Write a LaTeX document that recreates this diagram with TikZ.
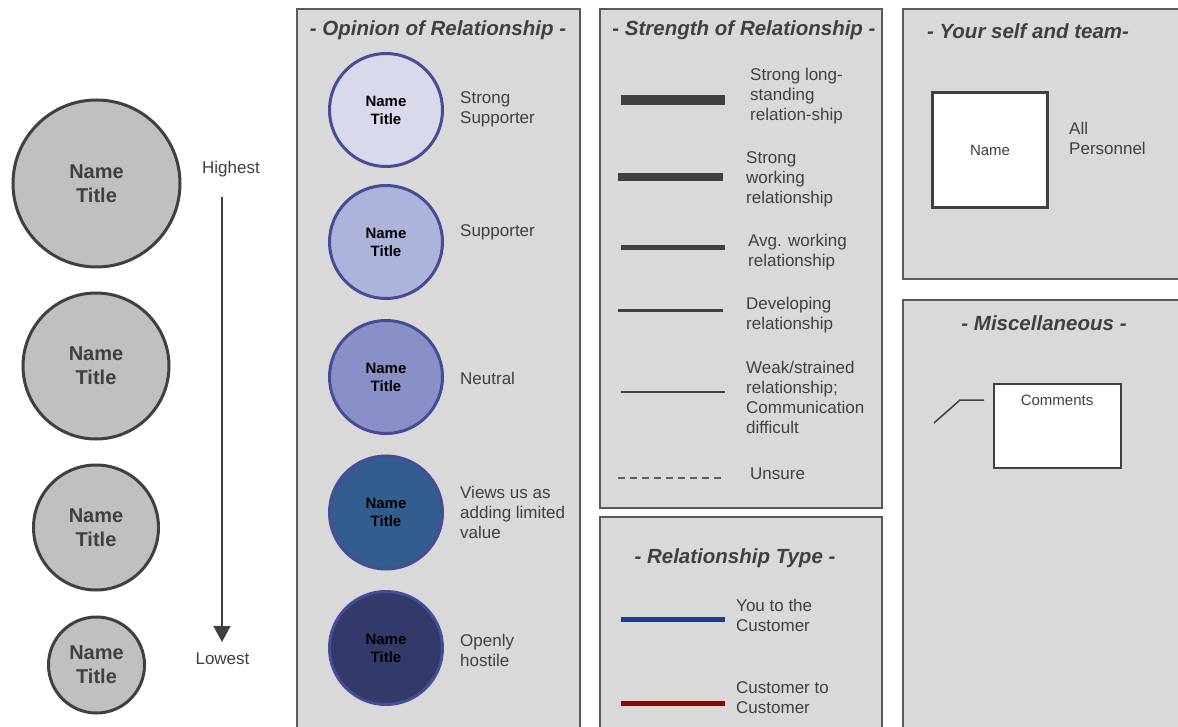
\documentclass[tikz,border=0pt]{standalone}
\usepackage{fontspec}
\setmainfont{Liberation Sans}
\usetikzlibrary{arrows.meta}
\definecolor{panelfill}{HTML}{D9D9D9}
\definecolor{panelline}{HTML}{5A5A5A}
\definecolor{txt}{HTML}{404040}
\definecolor{rankfill}{HTML}{C0C0C0}
\definecolor{opline}{HTML}{464C97}
\definecolor{opA}{HTML}{D8D9EB}
\definecolor{opB}{HTML}{AEB3DB}
\definecolor{opC}{HTML}{8A90C7}
\definecolor{opD}{HTML}{335D8E}
\definecolor{opE}{HTML}{333A69}
\definecolor{relblue}{HTML}{1D3C9A}
\definecolor{relred}{HTML}{990000}
\begin{document}
\begin{tikzpicture}[x=1pt,y=-1pt,
  panel/.style={draw=panelline,fill=panelfill,line width=1.2pt},
  heading/.style={text=txt,font=\bfseries\itshape\fontsize{20.5}{24}\selectfont,inner sep=0pt},
  label/.style={text=txt,font=\fontsize{17}{20}\selectfont,align=left,anchor=west,inner sep=0pt},
  rank/.style={circle,draw=txt,fill=rankfill,line width=3pt,inner sep=0pt,align=center,text=txt,font=\bfseries\fontsize{20}{24}\selectfont},
  opinion/.style={circle,draw=opline,line width=3pt,minimum size=113pt,inner sep=0pt,align=center,text=black,font=\bfseries\fontsize{15}{18}\selectfont},
  sample/.style={draw=txt,line cap=butt}
]
\useasboundingbox (0,0) rectangle (1178,727);
\clip (0,0) rectangle (1178,727);
\fill[white] (0,0) rectangle (1178,727);

% panels
\draw[panel] (297,9) rectangle (580,740);
\draw[panel] (600,9) rectangle (882,508);
\draw[panel] (600,517) rectangle (882,740);
\draw[panel] (903,9) rectangle (1190,279);
\draw[panel] (903,300) rectangle (1190,740);

% rank circles
\node[rank,minimum size=167pt] (r1) at (96.5,183.5) {Name\\Title};
\node[rank,minimum size=146pt] (r2) at (96,366) {Name\\Title};
\node[rank,minimum size=125pt] (r3) at (96,527.5) {Name\\Title};
\node[rank,minimum size=96pt] (r4) at (96.5,665) {Name\\Title};

\node[text=txt,font=\fontsize{17}{20}\selectfont,inner sep=0pt] (hi) at (231,169) {Highest};
\node[text=txt,font=\fontsize{17}{20}\selectfont,inner sep=0pt] (lo) at (222.5,659) {Lowest};
\coordinate (arrS) at (222,197);
\coordinate (arrE) at (222,642);
\draw[draw=txt,line width=1.5pt,-{Triangle[length=16pt,width=17pt]}] (arrS) -- (arrE);

% opinion panel
\node[heading] (h1) at (438,30) {- Opinion of Relationship -};
\node[opinion,fill=opA] (o1) at (386,110) {Name\\Title};
\node[opinion,fill=opB] (o2) at (386,242) {Name\\Title};
\node[opinion,fill=opC] (o3) at (386,377) {Name\\Title};
\node[opinion,fill=opD] (o4) at (386,512.5) {Name\\Title};
\node[opinion,fill=opE] (o5) at (386,648) {Name\\Title};
\node[label] (l1) at (460,109) {Strong\\Supporter};
\node[label] (l2) at (460,232) {Supporter};
\node[label] (l3) at (460,378) {Neutral};
\node[label] (l4) at (460,512.5) {Views us as\\adding limited\\value};
\node[label] (l5) at (460,650.5) {Openly\\hostile};

% strength panel
\node[heading] (h2) at (744,30) {- Strength of Relationship -};
\draw[sample,line width=10pt] (621,100) -- (725,100);
\draw[sample,line width=8pt] (618,177.5) -- (723,177.5);
\draw[sample,line width=5pt] (621,248) -- (725,248);
\draw[sample,line width=3pt] (618,310.5) -- (723,310.5);
\draw[sample,line width=1.6pt] (621,392) -- (725,392);
\draw[sample,line width=1.5pt,dash pattern=on 7pt off 5pt,draw=txt!85] (618,478) -- (723,478);
\node[label] (s1) at (750,96) {Strong long-\\standing\\relation-ship};
\node[label] (s2) at (746,179) {Strong\\working\\relationship};
\node[label] (s3) at (748,252) {Avg. working\\relationship};
\node[label] (s4) at (746,315) {Developing\\relationship};
\node[label] (s5) at (746,397.5) {Weak/strained\\relationship;\\Communication\\difficult};
\node[label] (s6) at (750,474) {Unsure};

% relationship type panel
\node[heading] (h3) at (735,558) {- Relationship Type -};
\draw[line width=5pt,draw=relblue] (621,619.5) -- (725,619.5);
\draw[line width=5pt,draw=relred] (621,703) -- (725,703);
\node[label] (t1) at (736,615) {You to the\\Customer};
\node[label] (t2) at (736,698) {Customer to\\Customer};

% your self and team
\node[heading] (h4) at (1028,31) {- Your self and team-};
\node[draw=txt,fill=white,line width=3.5pt,minimum width=115pt,minimum height=115pt,inner sep=0pt,text=txt,font=\fontsize{15}{18}\selectfont] (nm) at (990,150) {Name};
\node[label] (p1) at (1069,138) {All\\Personnel};

% miscellaneous
\node[heading] (h5) at (1044,323) {- Miscellaneous -};
\node[draw=txt,fill=white,line width=1.5pt,minimum width=127pt,minimum height=84pt,inner sep=0pt] (cm) at (1057.5,426) {};
\node[text=txt,font=\fontsize{15}{18}\selectfont,inner sep=0pt] (cmt) at (1057,400) {Comments};
\coordinate (ca) at (934,423);
\coordinate (cb) at (960,400);
\coordinate (cc) at (984,400);
\draw[draw=txt,line width=1.5pt] (ca) -- (cb) -- (cc);
\end{tikzpicture}
\end{document}
